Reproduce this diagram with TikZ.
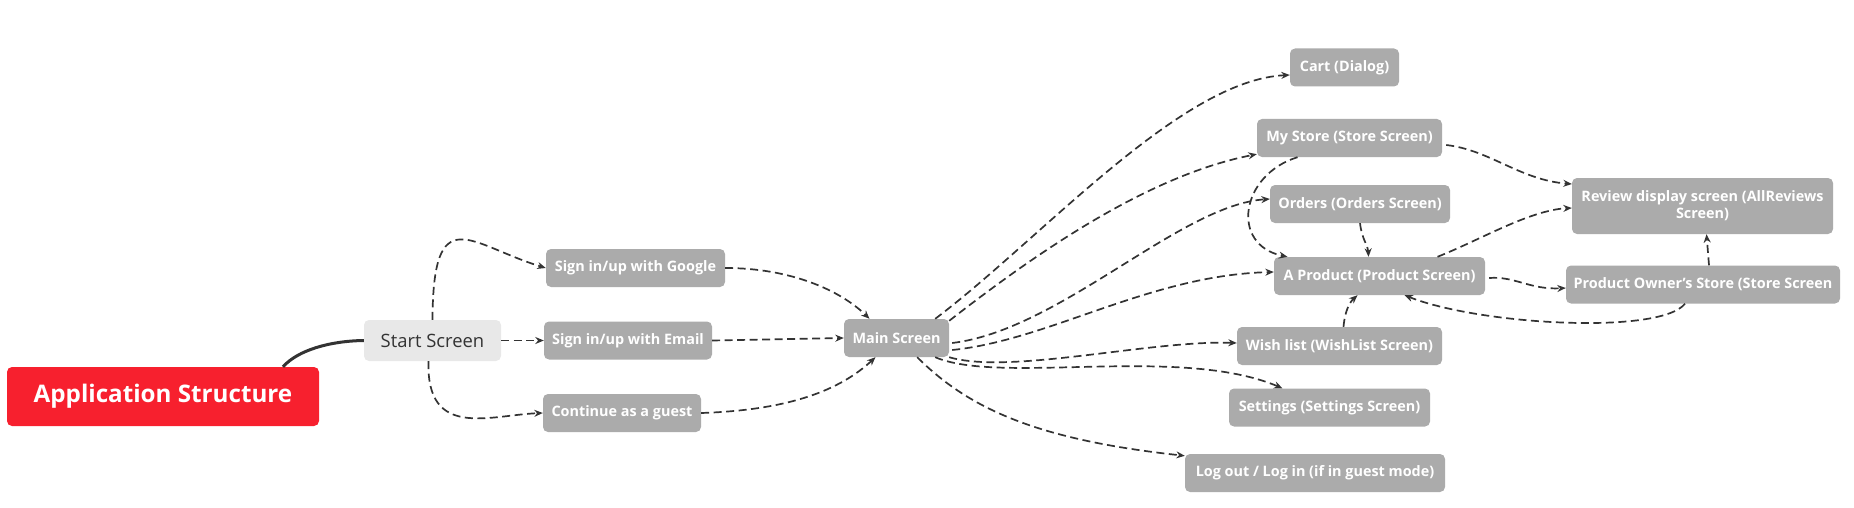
\documentclass[tikz,border=0pt]{standalone}
\usepackage{fontspec}
\setmainfont{Open Sans}
\usetikzlibrary{arrows.meta}
\definecolor{boxgray}{HTML}{ABABAB}
\definecolor{rootred}{HTML}{F7202E}
\definecolor{startgray}{HTML}{E8E8E8}
\definecolor{linegray}{HTML}{333333}
\tikzset{
screen/.style={rounded corners=5pt, fill=boxgray, text=white, font=\bfseries\fontsize{14.4}{17}\selectfont, minimum height=38pt, inner sep=0pt},
link/.style={draw=linegray, line width=1.7pt, dash pattern=on 8pt off 4.5pt, -{Stealth[length=8.5pt,width=7pt]}}
}

\begin{document}
\begin{tikzpicture}[x=1pt,y=-1pt]
\useasboundingbox (0,0) rectangle (1854,508);

\node[rounded corners=5pt, fill=rootred, text=white, font=\bfseries\fontsize{24.2}{28}\selectfont, minimum width=312pt, minimum height=59pt] (app) at (163,396.5) {Application Structure};
\node[rounded corners=5pt, fill=startgray, text=linegray, font=\fontsize{18.4}{21}\selectfont, minimum width=137pt, minimum height=41pt] (start) at (432.5,340.5) {Start Screen};

\node[screen, minimum width=179pt] (google) at (635.5,268) {Sign in/up with Google};
\node[screen, minimum width=168pt] (email) at (628,340.5) {Sign in/up with Email};
\node[screen, minimum width=158pt] (guest) at (622,413) {Continue as a guest};
\node[screen, minimum width=105pt] (main) at (896.5,338) {Main Screen};

%Right side
\node[screen, minimum width=109pt] (cart) at (1344.5,67.5) {Cart (Dialog)};
\node[screen, minimum width=185pt] (mystore) at (1349.5,138) {My Store (Store Screen)};
\node[screen, minimum width=180pt] (orders) at (1360,204) {Orders (Orders Screen)};
\node[screen, minimum width=211pt] (product) at (1379.5,276) {A Product (Product Screen)};
\node[screen, minimum width=205pt] (wish) at (1339.5,346) {Wish list (WishList Screen)};
\node[screen, minimum width=201pt] (settings) at (1329.5,407.5) {Settings (Settings Screen)};
\node[screen, minimum width=260pt] (logout) at (1315,473) {Log out / Log in (if in guest mode)};
\node[screen, minimum width=261pt, minimum height=56pt, align=center] (review) at (1702.5,206) {Review display screen (AllReviews\\Screen)};
\node[screen, minimum width=274pt] (owner) at (1703,284.5) {Product Owner's Store (Store Screen};

\draw[line width=3pt, linegray] ([xshift=120pt]app.north) .. controls (298,350) and (330,341) .. (start.west);

\draw[link] (start.north) .. controls (433,198) and (470,245) .. (google.west);
\draw[link] (start.east) -- (email.west);
\draw[link] ([xshift=-4pt]start.south) .. controls (426,440) and (490,415) .. (guest.west);

\draw[link] (google.east) .. controls (790,268) and (840,290) .. ([xshift=-27pt]main.north);
\draw[link] (email.east) -- (main.west);
\draw[link] (guest.east) .. controls (790,410) and (840,390) .. ([xshift=-21pt]main.south);

%Main Screen out
\draw[link] ([xshift=-14pt]main.north east) .. controls (1040,240) and (1180,80) .. ([yshift=-7.5pt]cart.west);
\draw[link] ([yshift=-2pt]main.north east) .. controls (1040,250) and (1150,175) .. ([yshift=3pt]mystore.south west);
\draw[link] ([xshift=3pt,yshift=-5pt]main.east) .. controls (1060,330) and (1180,205) .. ([yshift=5pt]orders.west);
\draw[link] ([xshift=3pt,yshift=-12pt]main.east) .. controls (1050,340) and (1150,275) .. ([yshift=4pt]product.west);
\draw[link] (main.south east) .. controls (1010,375) and (1150,340) .. ([yshift=3pt]wish.west);
\draw[link] ([xshift=-14pt]main.south east) .. controls (1000,385) and (1180,345) .. ([xshift=-47pt]settings.north);
\draw[link] ([xshift=-32pt]main.south east) .. controls (970,410) and (1040,440) .. ([yshift=-2pt]logout.north west);

\draw[link] ([xshift=-52pt]mystore.south) .. controls (1240,175) and (1230,245) .. ([xshift=-92pt]product.north);
\draw[link] (orders.south) .. controls (1362,240) and (1368,245) .. ([xshift=-11pt]product.north);
\draw[link] ([xshift=4pt,yshift=-7pt]mystore.east) .. controls (1490,150) and (1520,180) .. ([yshift=22pt]review.west);
\draw[link] ([xshift=58pt]product.north) .. controls (1480,240) and (1530,210) .. ([yshift=-2pt]review.west);
\draw[link] ([xshift=4pt,yshift=-2pt]product.east) .. controls (1515,276) and (1530,290) .. ([yshift=-3.5pt]owner.west);
\draw[link] ([xshift=6pt]owner.north) -- ([xshift=4pt]review.south);
\draw[link] ([xshift=-18pt]owner.south) .. controls (1660,335) and (1480,325) .. ([xshift=25pt]product.south);
\draw[link] ([xshift=4pt]wish.north) .. controls (1345,310) and (1350,302) .. ([xshift=-22pt]product.south);
\end{tikzpicture}
\end{document}
